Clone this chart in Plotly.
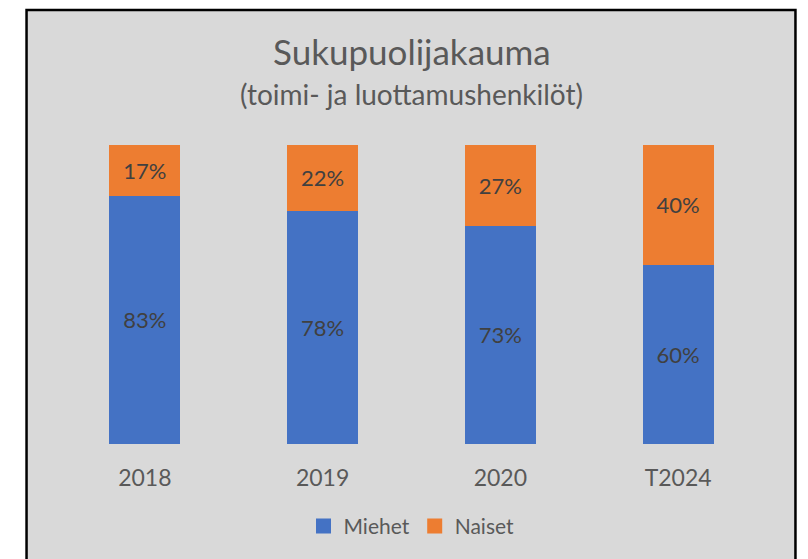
import plotly.graph_objects as go

categories = ["2018", "2019", "2020", "T2024"]
miehet = [83, 78, 73, 60]
naiset = [17, 22, 27, 40]
series_names = ["Miehet", "Naiset"]
colors = ["#4472c4", "#ed7d31"]

FONT = "Lato"
fig = go.Figure()
for name, vals, col in zip(series_names, [miehet, naiset], colors):
    fig.add_trace(go.Bar(
        name=name, x=categories, y=[v / 100 for v in vals], showlegend=False,
        marker=dict(color=col, line=dict(width=0)),
        text=[f"{v}%" for v in vals], textposition="inside", insidetextanchor="middle",
        textfont=dict(family=FONT, size=22, color="#404040"), textangle=0,
    ))
# legend entries with larger square swatches
for name, col in zip(series_names, colors):
    fig.add_trace(go.Scatter(
        name=name, x=[None], y=[None], mode="markers",
        marker=dict(symbol="square", size=15, color=col), showlegend=True,
    ))

# page body has 8px margin: work in figure coordinates (screen - 8)
W, H = 800, 551
L, R, T, B = 47.5, 40.5, 137, 113
pw = W - L - R
ph = H - T - B

def px(x):
    return (x - L) / pw

def py(y):
    return (H - B - y) / ph

fig.update_layout(
    width=W, height=H,
    margin=dict(l=L, r=R, t=T, b=B, pad=0),
    barmode="stack", bargap=0.6,
    paper_bgcolor="white", plot_bgcolor="rgba(0,0,0,0)",
    showlegend=True,
    legend=dict(orientation="h", x=0.5, xanchor="center", y=py(521), yanchor="middle",
                font=dict(family=FONT, size=21, color="#595959"), bgcolor="rgba(0,0,0,0)",
                traceorder="normal", itemwidth=30, itemsizing="trace"),
    shapes=[dict(type="rect", xref="paper", yref="paper", layer="below",
                 x0=px(18), x1=px(788), y0=py(1), y1=py(570),
                 fillcolor="#d9d9d9", line=dict(color="black", width=2.5))],
    annotations=[
        dict(text="Sukupuolijakauma", xref="paper", yref="paper", x=0.5, y=py(42),
             xanchor="center", yanchor="middle", showarrow=False,
             font=dict(family=FONT, size=35, color="#595959")),
        dict(text="(toimi- ja luottamushenkilöt)", xref="paper", yref="paper", x=0.5, y=py(86),
             xanchor="center", yanchor="middle", showarrow=False,
             font=dict(family=FONT, size=28, color="#595959")),
    ],
)
fig.update_xaxes(showgrid=False, showline=False, zeroline=False, ticks="",
                 tickfont=dict(family=FONT, size=23, color="#595959"),
                 ticklabelstandoff=18)
fig.update_yaxes(range=[0, 1], visible=False, showgrid=False, zeroline=False)

fig.write_html("out.html")
